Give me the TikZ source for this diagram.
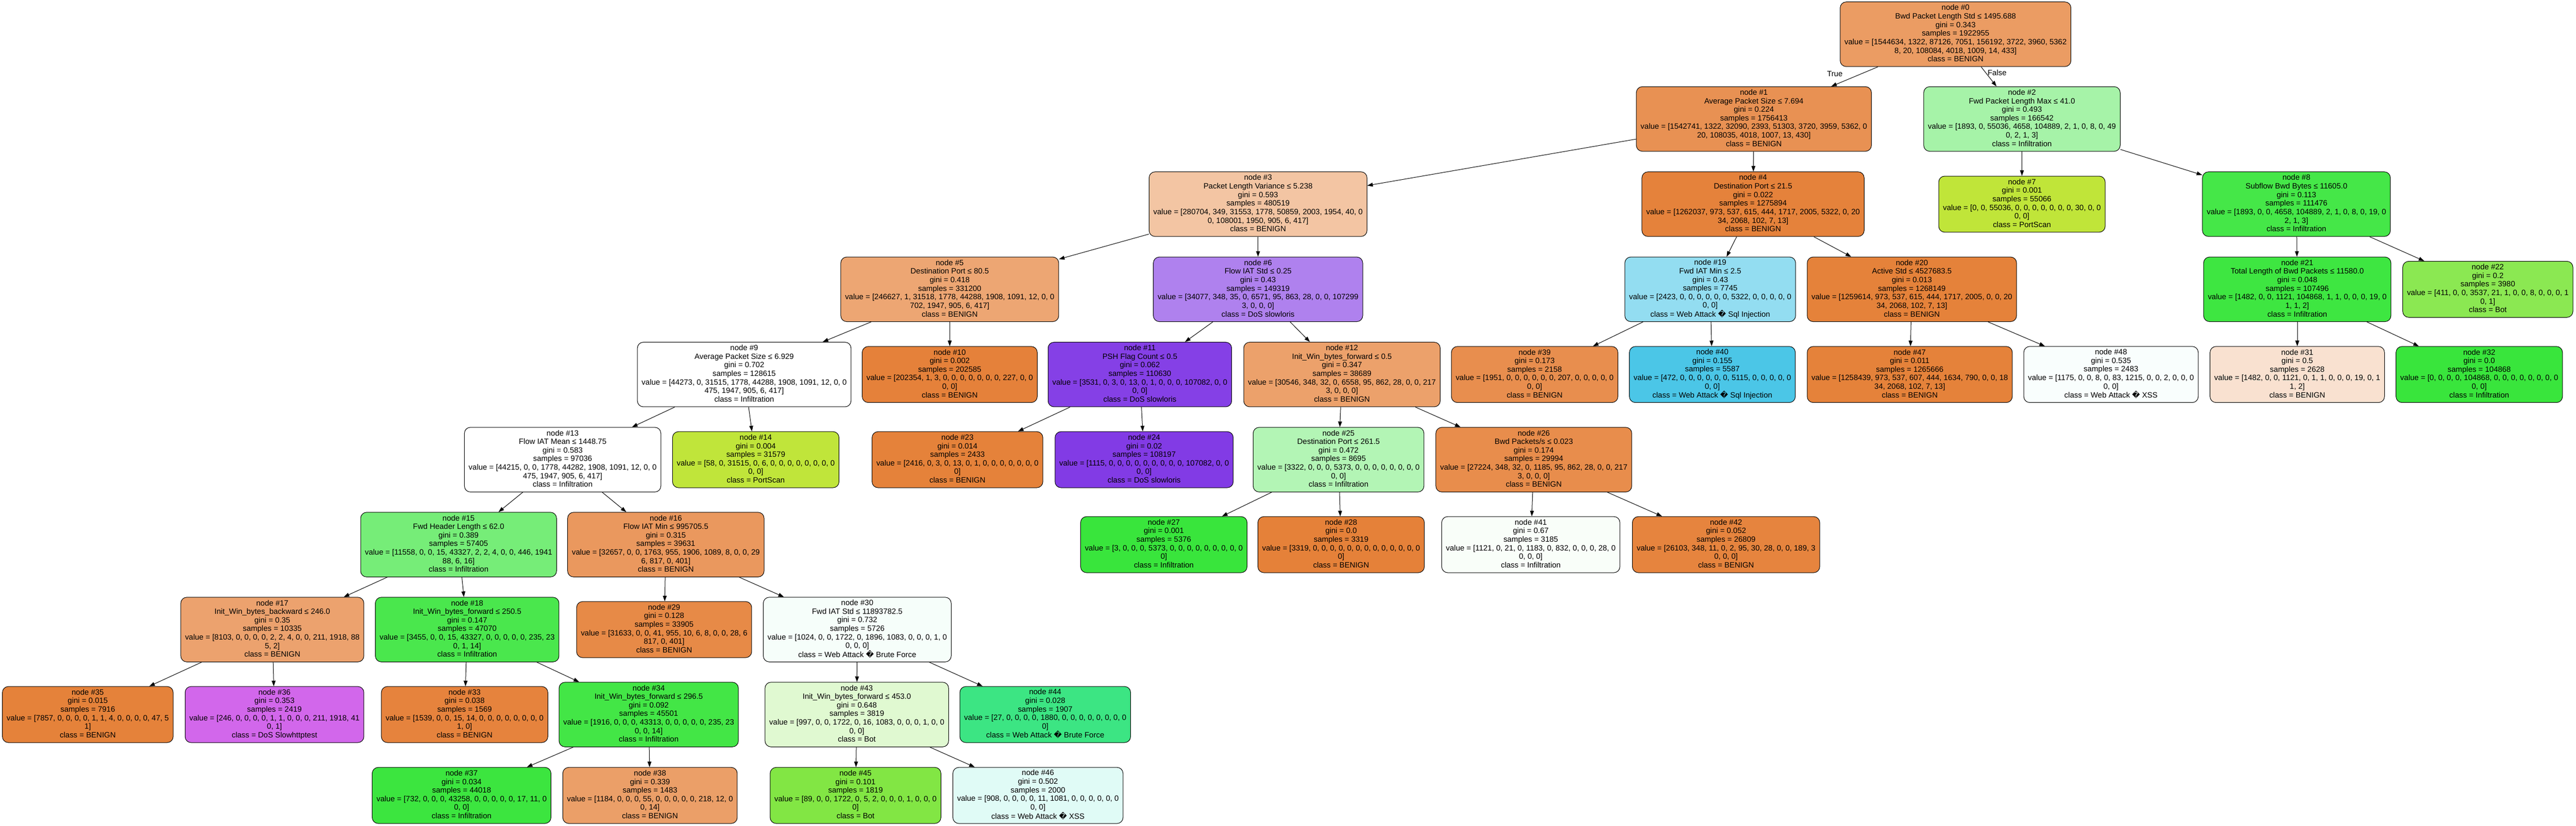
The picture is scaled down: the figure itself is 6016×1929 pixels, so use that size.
\documentclass[tikz,border=0pt]{standalone}
\usepackage{fontspec}
\setmainfont{Liberation Sans}
\newfontfamily\dejavu{DejaVu Sans}
\usetikzlibrary{arrows.meta}
\newcommand{\qmark}{{\dejavu\symbol{"FFFD}}}
\newcommand{\splitText}[7]{\strut node \##1\\#2\\gini = #3\\samples = #4\\value = [#5\\#6]\\class = #7\strut}
\newcommand{\leafText}[6]{\strut node \##1\\gini = #2\\samples = #3\\value = [#4\\#5]\\class = #6\strut}
\definecolor{fill0}{RGB}{235,156,99}
\definecolor{fill1}{RGB}{232,145,83}
\definecolor{fill2}{RGB}{166,243,168}
\definecolor{fill3}{RGB}{243,197,163}
\definecolor{fill4}{RGB}{229,130,59}
\definecolor{fill5}{RGB}{237,166,115}
\definecolor{fill6}{RGB}{175,129,238}
\definecolor{fill7}{RGB}{192,229,57}
\definecolor{fill8}{RGB}{69,231,72}
\definecolor{fill9}{RGB}{255,255,255}
\definecolor{fill10}{RGB}{229,129,58}
\definecolor{fill11}{RGB}{133,64,230}
\definecolor{fill12}{RGB}{236,161,107}
\definecolor{fill13}{RGB}{255,255,255}
\definecolor{fill14}{RGB}{192,229,58}
\definecolor{fill15}{RGB}{118,237,120}
\definecolor{fill16}{RGB}{234,152,94}
\definecolor{fill17}{RGB}{236,162,110}
\definecolor{fill18}{RGB}{74,231,77}
\definecolor{fill19}{RGB}{147,221,241}
\definecolor{fill20}{RGB}{229,130,58}
\definecolor{fill21}{RGB}{62,230,65}
\definecolor{fill22}{RGB}{139,232,82}
\definecolor{fill23}{RGB}{229,130,58}
\definecolor{fill24}{RGB}{130,59,229}
\definecolor{fill25}{RGB}{179,245,181}
\definecolor{fill26}{RGB}{232,141,76}
\definecolor{fill27}{RGB}{57,229,60}
\definecolor{fill28}{RGB}{229,129,57}
\definecolor{fill29}{RGB}{231,138,71}
\definecolor{fill30}{RGB}{246,254,250}
\definecolor{fill31}{RGB}{249,225,208}
\definecolor{fill32}{RGB}{57,229,60}
\definecolor{fill33}{RGB}{230,131,61}
\definecolor{fill34}{RGB}{67,230,70}
\definecolor{fill35}{RGB}{229,130,58}
\definecolor{fill36}{RGB}{210,103,235}
\definecolor{fill37}{RGB}{60,229,63}
\definecolor{fill38}{RGB}{235,159,104}
\definecolor{fill39}{RGB}{232,142,78}
\definecolor{fill40}{RGB}{75,198,231}
\definecolor{fill41}{RGB}{249,254,249}
\definecolor{fill42}{RGB}{230,132,62}
\definecolor{fill43}{RGB}{224,249,209}
\definecolor{fill44}{RGB}{60,229,131}
\definecolor{fill45}{RGB}{130,230,68}
\definecolor{fill46}{RGB}{224,251,246}
\definecolor{fill47}{RGB}{229,130,58}
\definecolor{fill48}{RGB}{249,254,253}
\tikzset{>={Triangle[length=13pt,width=9pt]},
    every edge/.style={draw,->,line width=1.2pt},
    treebox/.style={draw,line width=1.2pt,rounded corners=14pt,align=center,
        inner xsep=10pt,inner ysep=0pt,font=\fontsize{18}{20}\selectfont},
    split/.style={treebox,minimum height=151pt},
    leaf/.style={treebox,minimum height=131pt},
    edgelabel/.style={inner sep=0pt,font=\fontsize{18}{20}\selectfont}}
\begin{document}
\begin{tikzpicture}
[x=1pt,y=1pt]
\useasboundingbox (0,0) rectangle (6016,-1929);
\node[split,fill=fill0]  (n0)  at (4567,-80)     {\splitText{0}{Bwd Packet Length Std ≤ 1495.688}{0.343}{1922955}{1544634, 1322, 87126, 7051, 156192, 3722, 3960, 5362}{8, 20, 108084, 4018, 1009, 14, 433}{BENIGN}};
\node[split,fill=fill1]  (n1)  at (4096,-278)    {\splitText{1}{Average Packet Size ≤ 7.694}{0.224}{1756413}{1542741, 1322, 32090, 2393, 51303, 3720, 3959, 5362, 0}{20, 108035, 4018, 1007, 13, 430}{BENIGN}};
\node[split,fill=fill2]  (n2)  at (4722,-278)    {\splitText{2}{Fwd Packet Length Max ≤ 41.0}{0.493}{166542}{1893, 0, 55036, 4658, 104889, 2, 1, 0, 8, 0, 49}{0, 2, 1, 3}{Infiltration}};
\node[split,fill=fill3]  (n3)  at (2938,-477)    {\splitText{3}{Packet Length Variance ≤ 5.238}{0.593}{480519}{280704, 349, 31553, 1778, 50859, 2003, 1954, 40, 0}{0, 108001, 1950, 905, 6, 417}{BENIGN}};
\node[split,fill=fill4]  (n4)  at (4094,-477)    {\splitText{4}{Destination Port ≤ 21.5}{0.022}{1275894}{1262037, 973, 537, 615, 444, 1717, 2005, 5322, 0, 20}{34, 2068, 102, 7, 13}{BENIGN}};
\node[leaf,fill=fill7]   (n7)  at (4722,-477)    {\leafText{7}{0.001}{55066}{0, 0, 55036, 0, 0, 0, 0, 0, 0, 0, 30, 0, 0}{0, 0}{PortScan}};
\node[split,fill=fill8]  (n8)  at (5363,-477)    {\splitText{8}{Subflow Bwd Bytes ≤ 11605.0}{0.113}{111476}{1893, 0, 0, 4658, 104889, 2, 1, 0, 8, 0, 19, 0}{2, 1, 3}{Infiltration}};
\node[split,fill=fill5]  (n5)  at (2218,-676)    {\splitText{5}{Destination Port ≤ 80.5}{0.418}{331200}{246627, 1, 31518, 1778, 44288, 1908, 1091, 12, 0, 0}{702, 1947, 905, 6, 417}{BENIGN}};
\node[split,fill=fill6]  (n6)  at (2938,-676)    {\splitText{6}{Flow IAT Std ≤ 0.25}{0.43}{149319}{34077, 348, 35, 0, 6571, 95, 863, 28, 0, 0, 107299}{3, 0, 0, 0}{DoS slowloris}};
\node[split,fill=fill19] (n19) at (3994,-676)    {\splitText{19}{Fwd IAT Min ≤ 2.5}{0.43}{7745}{2423, 0, 0, 0, 0, 0, 0, 5322, 0, 0, 0, 0, 0}{0, 0}{Web Attack \qmark{} Sql Injection}};
\node[split,fill=fill20] (n20) at (4465,-676)    {\splitText{20}{Active Std ≤ 4527683.5}{0.013}{1268149}{1259614, 973, 537, 615, 444, 1717, 2005, 0, 0, 20}{34, 2068, 102, 7, 13}{BENIGN}};
\node[split,fill=fill21] (n21) at (5365,-676)    {\splitText{21}{Total Length of Bwd Packets ≤ 11580.0}{0.048}{107496}{1482, 0, 0, 1121, 104868, 1, 1, 0, 0, 0, 19, 0}{1, 1, 2}{Infiltration}};
\node[leaf,fill=fill22]  (n22) at (5810,-676)    {\leafText{22}{0.2}{3980}{411, 0, 0, 3537, 21, 1, 0, 0, 8, 0, 0, 0, 1}{0, 1}{Bot}};
\node[split,fill=fill9]  (n9)  at (1738,-875)    {\splitText{9}{Average Packet Size ≤ 6.929}{0.702}{128615}{44273, 0, 31515, 1778, 44288, 1908, 1091, 12, 0, 0}{475, 1947, 905, 6, 417}{Infiltration}};
\node[leaf,fill=fill10]  (n10) at (2218,-875)    {\leafText{10}{0.002}{202585}{202354, 1, 3, 0, 0, 0, 0, 0, 0, 0, 227, 0, 0}{0, 0}{BENIGN}};
\node[split,fill=fill11] (n11) at (2662,-875)    {\splitText{11}{PSH Flag Count ≤ 0.5}{0.062}{110630}{3531, 0, 3, 0, 13, 0, 1, 0, 0, 0, 107082, 0, 0}{0, 0}{DoS slowloris}};
\node[split,fill=fill12] (n12) at (3134,-875)    {\splitText{12}{Init\_Win\_bytes\_forward ≤ 0.5}{0.347}{38689}{30546, 348, 32, 0, 6558, 95, 862, 28, 0, 0, 217}{3, 0, 0, 0}{BENIGN}};
\node[leaf,fill=fill39]  (n39) at (3584,-875)    {\leafText{39}{0.173}{2158}{1951, 0, 0, 0, 0, 0, 0, 207, 0, 0, 0, 0, 0}{0, 0}{BENIGN}};
\node[leaf,fill=fill40]  (n40) at (3999,-875)    {\leafText{40}{0.155}{5587}{472, 0, 0, 0, 0, 0, 0, 5115, 0, 0, 0, 0, 0}{0, 0}{Web Attack \qmark{} Sql Injection}};
\node[leaf,fill=fill47]  (n47) at (4460,-875)    {\leafText{47}{0.011}{1265666}{1258439, 973, 537, 607, 444, 1634, 790, 0, 0, 18}{34, 2068, 102, 7, 13}{BENIGN}};
\node[leaf,fill=fill48]  (n48) at (4930,-875)    {\leafText{48}{0.535}{2483}{1175, 0, 0, 8, 0, 83, 1215, 0, 0, 2, 0, 0, 0}{0, 0}{Web Attack \qmark{} XSS}};
\node[leaf,fill=fill31]  (n31) at (5365,-875)    {\leafText{31}{0.5}{2628}{1482, 0, 0, 1121, 0, 1, 1, 0, 0, 0, 19, 0, 1}{1, 2}{BENIGN}};
\node[leaf,fill=fill32]  (n32) at (5790,-875)    {\leafText{32}{0.0}{104868}{0, 0, 0, 0, 104868, 0, 0, 0, 0, 0, 0, 0, 0}{0, 0}{Infiltration}};
\node[split,fill=fill13] (n13) at (1314,-1074)   {\splitText{13}{Flow IAT Mean ≤ 1448.75}{0.583}{97036}{44215, 0, 0, 1778, 44282, 1908, 1091, 12, 0, 0}{475, 1947, 905, 6, 417}{Infiltration}};
\node[leaf,fill=fill14]  (n14) at (1765,-1074)   {\leafText{14}{0.004}{31579}{58, 0, 31515, 0, 6, 0, 0, 0, 0, 0, 0, 0, 0}{0, 0}{PortScan}};
\node[leaf,fill=fill23]  (n23) at (2236,-1074)   {\leafText{23}{0.014}{2433}{2416, 0, 3, 0, 13, 0, 1, 0, 0, 0, 0, 0, 0, 0}{0}{BENIGN}};
\node[leaf,fill=fill24]  (n24) at (2672,-1074)   {\leafText{24}{0.02}{108197}{1115, 0, 0, 0, 0, 0, 0, 0, 0, 0, 107082, 0, 0}{0, 0}{DoS slowloris}};
\node[split,fill=fill25] (n25) at (3126,-1074)   {\splitText{25}{Destination Port ≤ 261.5}{0.472}{8695}{3322, 0, 0, 0, 5373, 0, 0, 0, 0, 0, 0, 0, 0}{0, 0}{Infiltration}};
\node[split,fill=fill26] (n26) at (3582,-1074)   {\splitText{26}{Bwd Packets/s ≤ 0.023}{0.174}{29994}{27224, 348, 32, 0, 1185, 95, 862, 28, 0, 0, 217}{3, 0, 0, 0}{BENIGN}};
\node[split,fill=fill15] (n15) at (1071,-1272.5) {\splitText{15}{Fwd Header Length ≤ 62.0}{0.389}{57405}{11558, 0, 0, 15, 43327, 2, 2, 4, 0, 0, 446, 1941}{88, 6, 16}{Infiltration}};
\node[split,fill=fill16] (n16) at (1555,-1272.5) {\splitText{16}{Flow IAT Min ≤ 995705.5}{0.315}{39631}{32657, 0, 0, 1763, 955, 1906, 1089, 8, 0, 0, 29}{6, 817, 0, 401}{BENIGN}};
\node[leaf,fill=fill27]  (n27) at (2718,-1272.5) {\leafText{27}{0.001}{5376}{3, 0, 0, 0, 5373, 0, 0, 0, 0, 0, 0, 0, 0, 0}{0}{Infiltration}};
\node[leaf,fill=fill28]  (n28) at (3132,-1272.5) {\leafText{28}{0.0}{3319}{3319, 0, 0, 0, 0, 0, 0, 0, 0, 0, 0, 0, 0, 0}{0}{BENIGN}};
\node[leaf,fill=fill41]  (n41) at (3575,-1272.5) {\leafText{41}{0.67}{3185}{1121, 0, 21, 0, 1183, 0, 832, 0, 0, 0, 28, 0}{0, 0, 0}{Infiltration}};
\node[leaf,fill=fill42]  (n42) at (4031,-1272.5) {\leafText{42}{0.052}{26809}{26103, 348, 11, 0, 2, 95, 30, 28, 0, 0, 189, 3}{0, 0, 0}{BENIGN}};
\node[split,fill=fill17] (n17) at (636,-1471)    {\splitText{17}{Init\_Win\_bytes\_backward ≤ 246.0}{0.35}{10335}{8103, 0, 0, 0, 0, 2, 2, 4, 0, 0, 211, 1918, 88}{5, 2}{BENIGN}};
\node[split,fill=fill18] (n18) at (1091,-1471)   {\splitText{18}{Init\_Win\_bytes\_forward ≤ 250.5}{0.147}{47070}{3455, 0, 0, 15, 43327, 0, 0, 0, 0, 0, 235, 23}{0, 1, 14}{Infiltration}};
\node[leaf,fill=fill29]  (n29) at (1551,-1471)   {\leafText{29}{0.128}{33905}{31633, 0, 0, 41, 955, 10, 6, 8, 0, 0, 28, 6}{817, 0, 401}{BENIGN}};
\node[split,fill=fill30] (n30) at (2002,-1471)   {\splitText{30}{Fwd IAT Std ≤ 11893782.5}{0.732}{5726}{1024, 0, 0, 1722, 0, 1896, 1083, 0, 0, 0, 1, 0}{0, 0, 0}{Web Attack \qmark{} Brute Force}};
\node[leaf,fill=fill35]  (n35) at (205,-1669.5)  {\leafText{35}{0.015}{7916}{7857, 0, 0, 0, 0, 1, 1, 4, 0, 0, 0, 0, 47, 5}{1}{BENIGN}};
\node[leaf,fill=fill36]  (n36) at (641,-1669.5)  {\leafText{36}{0.353}{2419}{246, 0, 0, 0, 0, 1, 1, 0, 0, 0, 211, 1918, 41}{0, 1}{DoS Slowhttptest}};
\node[leaf,fill=fill33]  (n33) at (1085,-1669.5) {\leafText{33}{0.038}{1569}{1539, 0, 0, 15, 14, 0, 0, 0, 0, 0, 0, 0, 0}{1, 0}{BENIGN}};
\node[split,fill=fill34] (n34) at (1515,-1669.5) {\splitText{34}{Init\_Win\_bytes\_forward ≤ 296.5}{0.092}{45501}{1916, 0, 0, 0, 43313, 0, 0, 0, 0, 0, 235, 23}{0, 0, 14}{Infiltration}};
\node[split,fill=fill43] (n43) at (2001,-1669.5) {\splitText{43}{Init\_Win\_bytes\_forward ≤ 453.0}{0.648}{3819}{997, 0, 0, 1722, 0, 16, 1083, 0, 0, 0, 1, 0, 0}{0, 0}{Bot}};
\node[leaf,fill=fill44]  (n44) at (2441,-1669.5) {\leafText{44}{0.028}{1907}{27, 0, 0, 0, 0, 1880, 0, 0, 0, 0, 0, 0, 0, 0}{0}{Web Attack \qmark{} Brute Force}};
\node[leaf,fill=fill37]  (n37) at (1078,-1858.5) {\leafText{37}{0.034}{44018}{732, 0, 0, 0, 43258, 0, 0, 0, 0, 0, 17, 11, 0}{0, 0}{Infiltration}};
\node[leaf,fill=fill38]  (n38) at (1518,-1858.5) {\leafText{38}{0.339}{1483}{1184, 0, 0, 0, 55, 0, 0, 0, 0, 0, 218, 12, 0}{0, 14}{BENIGN}};
\node[leaf,fill=fill45]  (n45) at (1998,-1858.5) {\leafText{45}{0.101}{1819}{89, 0, 0, 1722, 0, 5, 2, 0, 0, 0, 1, 0, 0, 0}{0}{Bot}};
\node[leaf,fill=fill46]  (n46) at (2424,-1858.5) {\leafText{46}{0.502}{2000}{908, 0, 0, 0, 0, 11, 1081, 0, 0, 0, 0, 0, 0}{0, 0}{Web Attack \qmark{} XSS}};
\node[edgelabel] (truelbl)  at (4285,-172) {True};
\node[edgelabel] (falselbl) at (4664,-170) {False};
\path
    (n0)  edge (n1)   (n0)  edge (n2)
    (n1)  edge (n3)   (n1)  edge (n4)
    (n2)  edge (n7)   (n2)  edge (n8)
    (n3)  edge (n5)   (n3)  edge (n6)
    (n4)  edge (n19)  (n4)  edge (n20)
    (n8)  edge (n21)  (n8)  edge (n22)
    (n5)  edge (n9)   (n5)  edge (n10)
    (n6)  edge (n11)  (n6)  edge (n12)
    (n19) edge (n39)  (n19) edge (n40)
    (n20) edge (n47)  (n20) edge (n48)
    (n21) edge (n31)  (n21) edge (n32)
    (n9)  edge (n13)  (n9)  edge (n14)
    (n11) edge (n23)  (n11) edge (n24)
    (n12) edge (n25)  (n12) edge (n26)
    (n13) edge (n15)  (n13) edge (n16)
    (n25) edge (n27)  (n25) edge (n28)
    (n26) edge (n41)  (n26) edge (n42)
    (n15) edge (n17)  (n15) edge (n18)
    (n16) edge (n29)  (n16) edge (n30)
    (n17) edge (n35)  (n17) edge (n36)
    (n18) edge (n33)  (n18) edge (n34)
    (n30) edge (n43)  (n30) edge (n44)
    (n34) edge (n37)  (n34) edge (n38)
    (n43) edge (n45)  (n43) edge (n46);
\end{tikzpicture}
\end{document}
